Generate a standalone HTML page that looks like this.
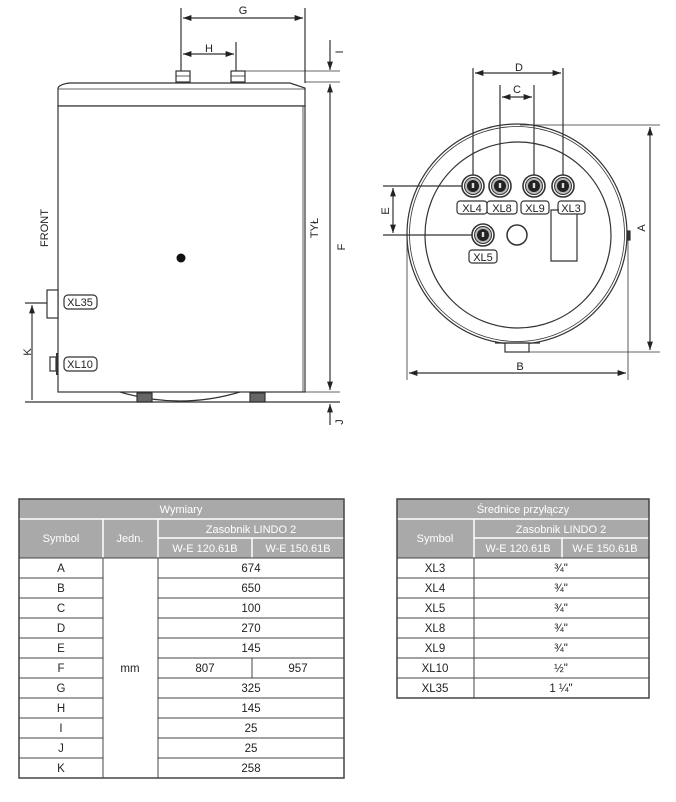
<!DOCTYPE html>
<html><head><meta charset="utf-8"><style>
body{margin:0;background:#fff;width:676px;height:802px;overflow:hidden;font-family:"Liberation Sans",sans-serif}
svg{position:absolute;left:0;top:0}
text{font-family:"Liberation Sans",sans-serif}
</style></head><body>
<svg width="676" height="802" viewBox="0 0 676 802">
<defs>
<marker id="a" viewBox="0 0 10 10" refX="10" refY="5" markerWidth="7" markerHeight="7" orient="auto-start-reverse"><path d="M0,1.5 L10,5 L0,8.5 z" fill="#222"/></marker>
<g id="fit"><circle r="11" fill="#fff" stroke="#333" stroke-width="1.6"/><circle r="8.5" fill="#bbb" stroke="#333" stroke-width="1"/><circle r="6" fill="#222"/><rect x="-1.2" y="-3" width="2.4" height="5" fill="#ddd"/></g>
</defs>
<g stroke="#333" fill="none" stroke-width="1.2">
<!-- left view -->
<path d="M58,106 L58,88 Q60,84 70,83 L290,83 L305,88 L305,106 Z" fill="#fff"/>
<line x1="58" y1="89" x2="305" y2="89" stroke-width="0.8"/>
<rect x="58" y="106" width="247" height="286" fill="#fff"/>
<line x1="303" y1="106" x2="303" y2="392" stroke-width="0.8"/>
<path d="M120,392 Q180,410 240,392"/>
<rect x="137" y="393" width="15" height="9" fill="#666"/>
<rect x="250" y="393" width="15" height="9" fill="#666"/>
<line x1="25" y1="402" x2="340" y2="402"/>
<rect x="176" y="71" width="14" height="11" fill="#fff"/>
<rect x="231" y="71" width="14" height="11" fill="#fff"/>
<line x1="176" y1="76" x2="190" y2="76" stroke-width="0.8"/>
<line x1="231" y1="76" x2="245" y2="76" stroke-width="0.8"/>
<!-- G H -->
<line x1="181" y1="8" x2="181" y2="71"/><line x1="305" y1="8" x2="305" y2="83"/>
<line x1="183" y1="18" x2="303" y2="18" marker-start="url(#a)" marker-end="url(#a)"/>
<line x1="236" y1="42" x2="236" y2="71"/>
<line x1="183" y1="54" x2="234" y2="54" marker-start="url(#a)" marker-end="url(#a)"/>
<!-- I F J -->
<line x1="245" y1="71" x2="340" y2="71" stroke-width="0.8"/>
<line x1="305" y1="82" x2="340" y2="82" stroke-width="0.8"/>
<line x1="330" y1="40" x2="330" y2="70" marker-end="url(#a)"/>
<line x1="330" y1="84" x2="330" y2="390" marker-start="url(#a)" marker-end="url(#a)"/>
<line x1="305" y1="392" x2="340" y2="392" stroke-width="0.8"/>
<line x1="330" y1="425" x2="330" y2="404" marker-end="url(#a)"/>
<!-- XL35 XL10 K -->
<rect x="47" y="290" width="11" height="28" fill="#fff"/>
<line x1="25" y1="303" x2="47" y2="303"/>
<line x1="32" y1="400" x2="32" y2="305" marker-end="url(#a)"/>
<rect x="50" y="357" width="6" height="14" fill="#fff"/>
<line x1="57" y1="353" x2="57" y2="375" stroke-width="2"/>
<rect x="64" y="295" width="33" height="14" rx="4"/>
<rect x="64" y="357" width="33" height="14" rx="4"/>
<!-- right view -->
<circle cx="517" cy="234" r="110"/>
<circle cx="517" cy="234" r="107.5" stroke-width="0.8"/>
<circle cx="518" cy="235" r="93"/>
<rect x="505" y="343" width="24" height="9" fill="#fff"/>
<line x1="495" y1="343" x2="540" y2="343"/>
<rect x="627" y="231" width="3" height="9" fill="#333"/>
<line x1="520" y1="125" x2="660" y2="125" stroke-width="0.8"/>
<line x1="529" y1="352" x2="660" y2="352" stroke-width="0.8"/>
<line x1="650" y1="127" x2="650" y2="350" marker-start="url(#a)" marker-end="url(#a)"/>
<line x1="407" y1="234" x2="407" y2="380" stroke-width="0.8"/>
<line x1="628" y1="234" x2="628" y2="380" stroke-width="0.8"/>
<line x1="409" y1="373" x2="626" y2="373" marker-start="url(#a)" marker-end="url(#a)"/>
<line x1="473" y1="68" x2="473" y2="175"/><line x1="563" y1="68" x2="563" y2="175"/>
<line x1="475" y1="73" x2="561" y2="73" marker-start="url(#a)" marker-end="url(#a)"/>
<line x1="500" y1="85" x2="500" y2="175"/><line x1="534" y1="85" x2="534" y2="175"/>
<line x1="502" y1="97" x2="532" y2="97" marker-start="url(#a)" marker-end="url(#a)"/>
<line x1="383" y1="186" x2="462" y2="186"/>
<line x1="383" y1="235" x2="472" y2="235"/>
<line x1="393" y1="188" x2="393" y2="233" marker-start="url(#a)" marker-end="url(#a)"/>
<circle cx="517" cy="235" r="10" stroke-width="1.5"/>
<polyline points="559,210 551,210 551,261 577,261 577,214"/>
<rect x="457" y="201" width="30" height="13" rx="3"/>
<rect x="487" y="201" width="30" height="13" rx="3"/>
<rect x="521" y="201" width="28" height="13" rx="3"/>
<rect x="558" y="201" width="27" height="13" rx="3"/>
<rect x="469" y="250" width="28" height="13" rx="3"/>
</g>
<use href="#fit" x="473" y="186"/><use href="#fit" x="500" y="186"/>
<use href="#fit" x="534" y="186"/><use href="#fit" x="563" y="186"/>
<use href="#fit" x="483" y="235"/>
<circle cx="181" cy="258" r="4.5" fill="#111"/>
<g font-size="11" fill="#222" text-anchor="middle">
<text x="243" y="14">G</text><text x="209" y="52">H</text>
<text x="80" y="306">XL35</text><text x="80" y="368">XL10</text>
<text x="472" y="212">XL4</text><text x="502" y="212">XL8</text>
<text x="535" y="212">XL9</text><text x="571" y="212">XL3</text>
<text x="483" y="261">XL5</text>
<text x="519" y="71">D</text><text x="517" y="93">C</text><text x="520" y="370">B</text>
<text transform="translate(48,228) rotate(-90)">FRONT</text>
<text transform="translate(318,228) rotate(-90)">TYŁ</text>
<text transform="translate(345,247) rotate(-90)">F</text>
<text transform="translate(343,52) rotate(-90)">I</text>
<text transform="translate(343,422) rotate(-90)">J</text>
<text transform="translate(31,352) rotate(-90)">K</text>
<text transform="translate(645,228) rotate(-90)">A</text>
<text transform="translate(389,211) rotate(-90)">E</text>
</g>
<!-- left table -->
<g>
<rect x="19" y="499" width="325" height="59" fill="#a9a9a9"/>
<g stroke="#fff" stroke-width="1.5">
<line x1="19" y1="519" x2="344" y2="519"/><line x1="158" y1="538" x2="344" y2="538"/>
<line x1="103" y1="519" x2="103" y2="558"/><line x1="158" y1="519" x2="158" y2="558"/>
<line x1="252" y1="538" x2="252" y2="558"/>
</g>
<g stroke="#444" stroke-width="1" fill="none">
<rect x="19" y="499" width="325" height="279" stroke-width="1.5"/>
<line x1="103" y1="558" x2="103" y2="778"/><line x1="158" y1="558" x2="158" y2="778"/>
<line x1="252" y1="658" x2="252" y2="678"/>
<path d="M19,558H344M19,578H103M158,578H344M19,598H103M158,598H344M19,618H103M158,618H344M19,638H103M158,638H344M19,658H103M158,658H344M19,678H103M158,678H344M19,698H103M158,698H344M19,718H103M158,718H344M19,738H103M158,738H344M19,758H103M158,758H344"/>
</g>
<g font-size="11" fill="#fff" text-anchor="middle">
<text x="181" y="513">Wymiary</text><text x="61" y="542">Symbol</text><text x="130" y="542">Jedn.</text>
<text x="251" y="533">Zasobnik LINDO 2</text><text x="205" y="552">W-E 120.61B</text><text x="298" y="552">W-E 150.61B</text>
</g>
<g font-size="11.5" fill="#222" text-anchor="middle">
<text x="61" y="572">A</text><text x="251" y="572">674</text>
<text x="61" y="592">B</text><text x="251" y="592">650</text>
<text x="61" y="612">C</text><text x="251" y="612">100</text>
<text x="61" y="632">D</text><text x="251" y="632">270</text>
<text x="61" y="652">E</text><text x="251" y="652">145</text>
<text x="61" y="672">F</text><text x="130" y="672">mm</text><text x="205" y="672">807</text><text x="298" y="672">957</text>
<text x="61" y="692">G</text><text x="251" y="692">325</text>
<text x="61" y="712">H</text><text x="251" y="712">145</text>
<text x="61" y="732">I</text><text x="251" y="732">25</text>
<text x="61" y="752">J</text><text x="251" y="752">25</text>
<text x="61" y="772">K</text><text x="251" y="772">258</text>
</g>
</g>
<!-- right table -->
<g>
<rect x="397" y="499" width="252" height="59" fill="#a9a9a9"/>
<g stroke="#fff" stroke-width="1.5">
<line x1="397" y1="519" x2="649" y2="519"/><line x1="474" y1="538" x2="649" y2="538"/>
<line x1="474" y1="519" x2="474" y2="558"/><line x1="562" y1="538" x2="562" y2="558"/>
</g>
<g stroke="#444" stroke-width="1" fill="none">
<rect x="397" y="499" width="252" height="199" stroke-width="1.5"/>
<line x1="474" y1="558" x2="474" y2="698"/>
<path d="M397,558H649M397,578H649M397,598H649M397,618H649M397,638H649M397,658H649M397,678H649"/>
</g>
<g font-size="11" fill="#fff" text-anchor="middle">
<text x="523" y="513">Średnice przyłączy</text><text x="435" y="542">Symbol</text>
<text x="561" y="533">Zasobnik LINDO 2</text><text x="518" y="552">W-E 120.61B</text><text x="605" y="552">W-E 150.61B</text>
</g>
<g font-size="11.5" fill="#222" text-anchor="middle">
<text x="435" y="572">XL3</text><text x="561" y="572">¾"</text>
<text x="435" y="592">XL4</text><text x="561" y="592">¾"</text>
<text x="435" y="612">XL5</text><text x="561" y="612">¾"</text>
<text x="435" y="632">XL8</text><text x="561" y="632">¾"</text>
<text x="435" y="652">XL9</text><text x="561" y="652">¾"</text>
<text x="435" y="672">XL10</text><text x="561" y="672">½"</text>
<text x="435" y="692">XL35</text><text x="561" y="692">1 ¼"</text>
</g>
</g>
</svg>
</body></html>
